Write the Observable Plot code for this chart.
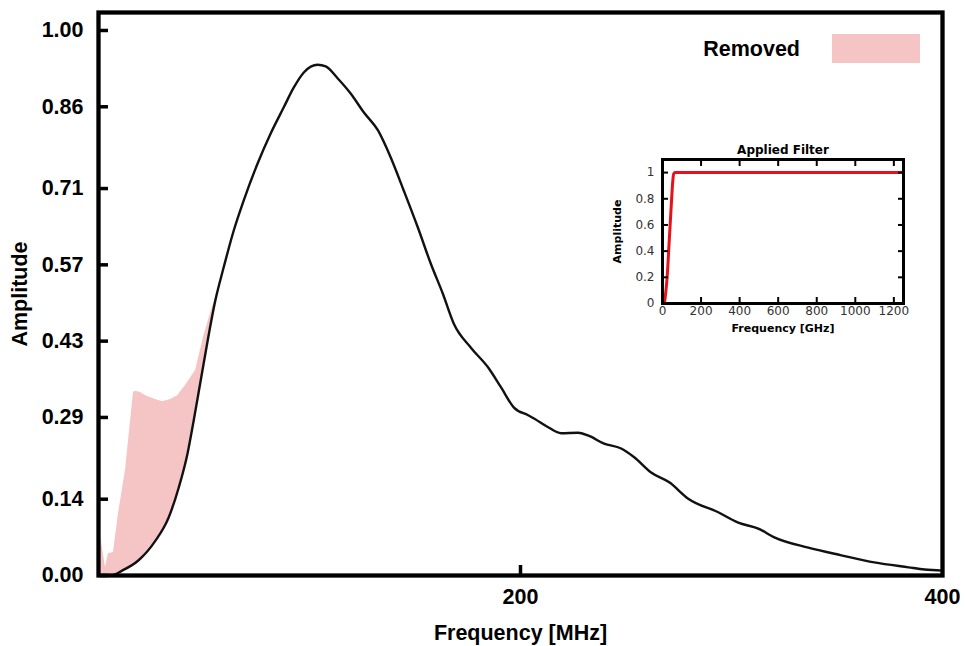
<!DOCTYPE html>
<html>
<head>
<meta charset="utf-8">
<script src="https://cdn.jsdelivr.net/npm/d3@7"></script>
<script src="https://cdn.jsdelivr.net/npm/@observablehq/plot@0.6"></script>
<style>
  html, body { margin: 0; padding: 0; background: #fff; }
  #wrap { position: relative; width: 965px; height: 646px; overflow: hidden; }
  #main, #inset { position: absolute; }
  #main { left: 0; top: 0; }
  #inset { left: 600px; top: 135px; }
  .legend-label { position: absolute; right: 165px; top: 36px; font: bold 21.5px "Liberation Sans", Arial, sans-serif; line-height: 26px; color: #000; }
  .legend-swatch { position: absolute; left: 832px; top: 34px; width: 88px; height: 29px; background: #f5c4c4; }
</style>
</head>
<body>
<div id="wrap">
  <div id="main"></div>
  <div id="inset"></div>
  <div class="legend-label">Removed</div>
  <div class="legend-swatch"></div>
</div>
<script>
// Filtered spectrum (frequency in MHz, normalised amplitude)
const spectrumFreq = [0, 5.7, 11.2, 19.0, 27.0, 33.2, 38.0, 42.2, 45.1, 47.5, 49.3, 55.5, 59.3, 64.1, 68.8, 75.4, 81.6, 87.8, 92.5, 97.3, 103.9, 107.7, 113.4, 119.6, 125.7, 132.4, 138.5, 144.7, 151.4, 157.5, 163.2, 168.4, 176.5, 184.6, 190.8, 196.9, 203.6, 206.4, 213.1, 219.2, 227.3, 232.0, 239.6, 247.7, 253.9, 261.9, 270.5, 279.5, 293.7, 303.2, 312.7, 320.3, 336.4, 352.1, 367.7, 383.9, 391.5, 400];
const spectrumAmp = [0, 0, 0.009, 0.028, 0.064, 0.106, 0.161, 0.224, 0.284, 0.337, 0.377, 0.507, 0.565, 0.633, 0.688, 0.756, 0.811, 0.859, 0.895, 0.923, 0.937, 0.934, 0.912, 0.884, 0.85, 0.817, 0.767, 0.706, 0.638, 0.572, 0.517, 0.462, 0.418, 0.382, 0.345, 0.308, 0.294, 0.288, 0.272, 0.261, 0.262, 0.257, 0.242, 0.233, 0.217, 0.189, 0.171, 0.141, 0.116, 0.097, 0.086, 0.07, 0.051, 0.037, 0.024, 0.015, 0.011, 0.009];

// Low band where the filter removed energy: original vs filtered amplitude
const lowFreq = [0, 1.5, 3.3, 4.7, 7.1, 9.5, 12.8, 15.2, 16.6, 17.6, 19.9, 22.3, 27.0, 30.4, 34.2, 37.5, 41.3, 46.0, 49.8, 53.0, 57.0];
const lowOriginal = [0.09, 0.06, 0.015, 0.04, 0.042, 0.114, 0.193, 0.284, 0.336, 0.338, 0.336, 0.330, 0.323, 0.319, 0.323, 0.330, 0.349, 0.376, 0.437, 0.48, 0.53];
const lowFiltered = [0, 0, 0, 0, 0, 0.003, 0.013, 0.019, 0.022, 0.025, 0.03, 0.043, 0.064, 0.087, 0.112, 0.155, 0.21, 0.304, 0.388, 0.455, 0.53];

// Axis ticks
const yTicks = [0, 0.14, 0.29, 0.43, 0.57, 0.71, 0.86, 1.00];
const xTickLabels = [200, 400];
const xTickMarks = [200];

// Applied filter response (frequency in GHz)
const filterFreq = [0, 5, 10, 15, 24, 35, 47, 53, 58, 65, 1250];
const filterGain = [0, 0, 0.01, 0.06, 0.2, 0.48, 0.79, 0.93, 0.99, 1, 1];
const insetXTicks = [0, 200, 400, 600, 800, 1000, 1200];
const insetYTicks = [0, 0.2, 0.4, 0.6, 0.8, 1];

const spectrum = spectrumFreq.map((f, i) => ({f, a: spectrumAmp[i]}));
const lowBand = lowFreq.map((f, i) => ({f, orig: lowOriginal[i], filt: lowFiltered[i]}));
const filter = filterFreq.map((f, i) => ({f, g: filterGain[i]}));

const mainFont = '"Liberation Sans", Arial, sans-serif';

// Inward-pointing ticks: draw the usual outward tick, shifted inside the frame by its own length.
const main = Plot.plot({
  width: 965,
  height: 646,
  marginLeft: 98,
  marginRight: 23,
  marginTop: 12,
  marginBottom: 71,
  style: {fontFamily: mainFont, fontSize: "21.5px", fontWeight: "bold", color: "#000", background: "transparent"},
  x: {domain: [0, 400]},
  y: {domain: [0, 1.033]},
  marks: [
    Plot.areaY(lowBand, {x: "f", y1: "filt", y2: "orig", fill: "#f5c4c4", curve: "linear"}),
    Plot.line(spectrum, {x: "f", y: "a", stroke: "#111", strokeWidth: 2.4, curve: "monotone-x"}),
    Plot.frame({stroke: "#000", strokeWidth: 4.3}),
    Plot.axisY({ticks: yTicks, tickSize: 9, dx: 10, strokeWidth: 3.5, fill: "none", label: null}),
    Plot.axisY({ticks: yTicks, tickSize: 0, tickPadding: 15, tickFormat: d3.format(".2f"), label: null}),
    Plot.axisX({ticks: xTickMarks, tickSize: 9, dy: -10, strokeWidth: 3.5, fill: "none", label: null}),
    Plot.axisX({ticks: xTickLabels, tickSize: 0, tickPadding: 13, tickFormat: d => String(d), label: null}),
    Plot.text(["Frequency [MHz]"], {frameAnchor: "bottom", lineAnchor: "middle", dy: 58, fontWeight: "bold", fontSize: 21.5}),
    Plot.text(["Amplitude"], {frameAnchor: "left", lineAnchor: "middle", textAnchor: "middle", dx: -78, rotate: -90, fontWeight: "bold", fontSize: 21.5})
  ]
});
document.getElementById("main").appendChild(main);

const insetFont = '"DejaVu Sans", Verdana, sans-serif';

const inset = Plot.plot({
  width: 320,
  height: 205,
  marginLeft: 62,
  marginRight: 17,
  marginTop: 24,
  marginBottom: 37,
  style: {fontFamily: insetFont, fontSize: "12px", color: "#333", background: "transparent"},
  x: {domain: [0, 1250]},
  y: {domain: [0, 1.1]},
  marks: [
    Plot.line(filter, {x: "f", y: "g", stroke: "#e5121c", strokeWidth: 3, curve: "monotone-x"}),
    Plot.frame({stroke: "#000", strokeWidth: 3}),
    Plot.axisY({anchor: "left", ticks: insetYTicks, tickSize: 5, dx: 6, strokeWidth: 2, stroke: "#000", fill: "none", label: null}),
    Plot.axisY({anchor: "right", ticks: insetYTicks, tickSize: 5, dx: -6, strokeWidth: 2, stroke: "#000", fill: "none", label: null}),
    Plot.axisX({anchor: "bottom", ticks: insetXTicks, tickSize: 5, dy: -6, strokeWidth: 2, stroke: "#000", fill: "none", label: null}),
    Plot.axisX({anchor: "top", ticks: insetXTicks, tickSize: 5, dy: 6, strokeWidth: 2, stroke: "#000", fill: "none", label: null}),
    Plot.axisY({anchor: "left", ticks: insetYTicks, tickSize: 0, tickPadding: 8, tickFormat: d => String(d), label: null}),
    Plot.axisX({anchor: "bottom", ticks: insetXTicks, tickSize: 0, tickPadding: 3, tickFormat: d => String(d), label: null}),
    Plot.text(["Applied Filter"], {frameAnchor: "top", lineAnchor: "middle", dy: -9, fontWeight: "bold", fontSize: 12, fill: "#000"}),
    Plot.text(["Frequency [GHz]"], {frameAnchor: "bottom", lineAnchor: "middle", dy: 25, fontWeight: "bold", fontSize: 11, fill: "#000"}),
    Plot.text(["Amplitude"], {frameAnchor: "left", lineAnchor: "middle", textAnchor: "middle", dx: -45, rotate: -90, fontWeight: "bold", fontSize: 11, fill: "#000"})
  ]
});
document.getElementById("inset").appendChild(inset);
</script>
</body>
</html>
